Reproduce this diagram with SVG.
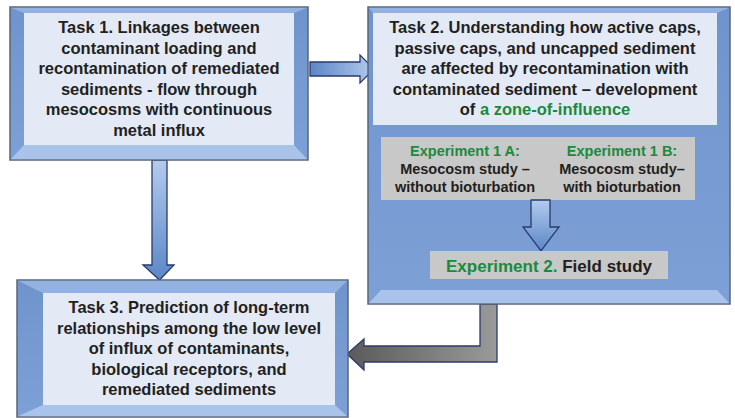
<svg xmlns="http://www.w3.org/2000/svg" width="735" height="418" viewBox="0 0 735 418">
<defs>
<linearGradient id="gH" x1="0" y1="0" x2="1" y2="0"><stop offset="0" stop-color="#5b86c6"/><stop offset="1" stop-color="#b3cbee"/></linearGradient>
<linearGradient id="gV" x1="0" y1="0" x2="0" y2="1"><stop offset="0" stop-color="#b3cbee"/><stop offset="1" stop-color="#5b86c6"/></linearGradient>
<linearGradient id="gG" x1="0" y1="0" x2="1" y2="0"><stop offset="0" stop-color="#5a5a5a"/><stop offset="1" stop-color="#9a9a9a"/></linearGradient>
<linearGradient id="gB" x1="0" y1="0" x2="0" y2="1"><stop offset="0" stop-color="#6f93cc"/><stop offset="1" stop-color="#7da1d6"/></linearGradient>
</defs>
<style>
.frame{fill:url(#gB);stroke:#5b6578;stroke-width:1.5}
.bevT{fill:#94b2e0}
.bevB{fill:#a9c3ea}
.bevS{fill:#6a8ec8}
.inner{fill:#e3eaf6}
.gray{fill:#c8c8c8}
.t{font-family:"Liberation Sans",Arial,sans-serif;font-weight:bold;fill:#231f20;text-anchor:middle}
.g{fill:#1a8a3e}
.arr{stroke:#2b3a6e;stroke-width:1.3;stroke-linejoin:miter}
</style>

<g id="connectors">
<path class="arr" fill="url(#gH)" d="M310,62 H360 V55 L374,69 L360,83 V76 H310 Z"/>
<path class="arr" fill="url(#gV)" d="M152,160 H167 V265 H174 L159.5,280 L143,265 H152 Z"/>
<path class="arr" fill="url(#gG)" d="M480,304 H497 V362 H364 V370 L347,354 L364,339 V346 H480 Z"/>
</g>

<g id="task1">
<rect class="frame" x="10" y="7" width="298" height="153"/>
<polygon class="bevT" points="10.8,7.8 307.2,7.8 294,13 24,13"/>
<polygon class="bevB" points="10.8,159.2 307.2,159.2 294,145 24,145"/>
<rect class="inner" x="24" y="13" width="270" height="132"/>
<text class="t" font-size="16.5" x="159" y="33">Task 1. Linkages between</text>
<text class="t" font-size="16.5" x="159" y="53.5">contaminant loading and</text>
<text class="t" font-size="16.5" x="159" y="74">recontamination of remediated</text>
<text class="t" font-size="16.5" x="159" y="94.5">sediments - flow through</text>
<text class="t" font-size="16.5" x="159" y="115">mesocosms with continuous</text>
<text class="t" font-size="16.5" x="159" y="135.5">metal influx</text>
</g>

<g id="task2">
<rect class="frame" x="368" y="7" width="362" height="297"/>
<polygon class="bevT" points="368.8,7.8 729.2,7.8 717,13 373,13"/>
<polygon class="bevB" points="368.8,303.2 729.2,303.2 717,290 381,290"/>
<rect class="inner" x="373" y="13" width="344" height="112"/>
<text class="t" font-size="16.5" x="545" y="33">Task 2. Understanding how active caps,</text>
<text class="t" font-size="16.5" x="545" y="53.5">passive caps, and uncapped sediment</text>
<text class="t" font-size="16.5" x="545" y="74">are affected by recontamination with</text>
<text class="t" font-size="16.5" x="545" y="94.5">contaminated sediment – development</text>
<text class="t" font-size="16.5" x="545" y="115">of <tspan class="g">a zone-of-influence</tspan></text>
</g>

<g id="exp1">
<rect class="gray" x="381" y="137" width="314" height="63"/>
<text class="t g" font-size="14.5" x="465" y="156">Experiment 1 A:</text>
<text class="t" font-size="14.5" x="465" y="174">Mesocosm study –</text>
<text class="t" font-size="14.5" x="465" y="192">without bioturbation</text>
<text class="t g" font-size="14.5" x="622" y="156">Experiment 1 B:</text>
<text class="t" font-size="14.5" x="622" y="174">Mesocosm study–</text>
<text class="t" font-size="14.5" x="622" y="192">with bioturbation</text>
</g>

<g id="connector-exp">
<path class="arr" fill="url(#gV)" d="M531,200 H550 V227 H559 L541,251 L523,227 H531 Z"/>
</g>

<g id="exp2">
<rect class="gray" x="430" y="251" width="238" height="28"/>
<text class="t" font-size="17" x="549" y="272"><tspan class="g">Experiment 2.</tspan> Field study</text>
</g>

<g id="task3">
<rect class="frame" x="17" y="280" width="331" height="137"/>
<polygon class="bevT" points="17.8,280.8 347.2,280.8 335,293 43,293"/>
<polygon class="bevB" points="17.8,416.2 347.2,416.2 335,405 43,405"/>
<rect class="inner" x="43" y="293" width="292" height="112"/>
<text class="t" font-size="16.5" x="189" y="313">Task 3. Prediction of long-term</text>
<text class="t" font-size="16.5" x="189" y="333.5">relationships among the low level</text>
<text class="t" font-size="16.5" x="189" y="354">of influx of contaminants,</text>
<text class="t" font-size="16.5" x="189" y="374.5">biological receptors, and</text>
<text class="t" font-size="16.5" x="189" y="395">remediated sediments</text>
</g>
</svg>
